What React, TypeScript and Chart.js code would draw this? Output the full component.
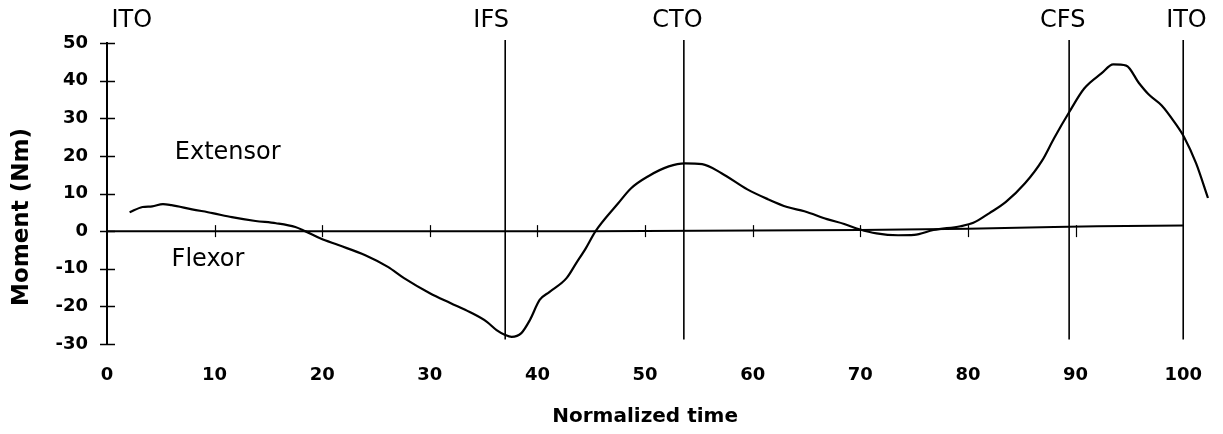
import React, { useEffect, useRef } from "react";
import { Chart, registerables } from "chart.js";

Chart.register(...registerables);

// Normalized time (% of gait cycle) and moment (Nm)
const timeX = [
  2.1, 3.3, 4.2, 5.2, 6.0, 7.9, 9.8, 11.6, 13.8, 15.7, 17.5, 18.4, 19.8, 21.5,
  24.0, 26.1, 27.6, 30.0, 31.9, 33.7, 35.3, 36.2, 37.0, 37.6, 38.5, 39.3, 40.2,
  41.1, 42.7, 43.6, 44.5, 45.4, 47.5, 48.7, 50.3, 52.2, 53.7, 55.3, 57.1, 59.5,
  61.4, 63.2, 64.8, 66.9, 68.5, 69.9, 71.5, 73.5, 75.0, 76.8, 79.3, 80.5, 82.0,
  83.5, 85.3, 86.9, 88.0, 89.4, 90.8, 92.4, 93.5, 94.7, 95.9, 96.8, 98.0, 99.2,
  100.1, 101.2, 102.3,
];
const momentY = [
  5.0, 6.4, 6.6, 7.2, 6.9, 5.8, 4.8, 3.7, 2.7, 2.1, 1.1, 0, -1.9, -3.7, -6.4,
  -9.5, -12.5, -16.5, -19.1, -21.5, -24.1, -26.3, -27.6, -28.1, -27.1, -23.6,
  -18.3, -16.2, -12.5, -8.5, -4.5, 0, 7.4, 11.4, 14.6, 17.2, 18.0, 17.8, 15.4,
  11.1, 8.5, 6.4, 5.3, 3.2, 1.9, 0.5, -0.6, -1.1, -1.0, 0.3, 1.3, 2.2, 4.8, 7.7,
  12.7, 18.8, 24.7, 31.6, 37.9, 41.9, 44.3, 44.0, 39.3, 36.3, 33.4, 28.9, 24.9,
  18.0, 8.8,
];

// Zero (baseline) trace
const baselineX = [0, 45, 70, 80, 88, 92, 100];
const baselineY = [0, 0, 0.3, 0.6, 1.1, 1.3, 1.5];

// Gait events
const eventNames = ["ITO", "IFS", "CTO", "CFS", "ITO"];
const eventLabelX = [2.3, 35.7, 53.0, 88.8, 100.3];
const eventLineX = [37.0, 53.6, 89.4, 100.0];
const eventLabelY = 56;
const eventLineTop = 50.8;
const eventLineBottom = -28.8;

// Region labels
const regionNames = ["Extensor", "Flexor"];
const regionX = [6.3, 6.0];
const regionY = [20.7, -7.7];

// Axis ticks
const yTickValues = [-30, -20, -10, 0, 10, 20, 30, 40, 50];
const xTickLabels = [0, 10, 20, 30, 40, 50, 60, 70, 80, 90, 100];
const xTickMarks = [10, 20, 30, 40, 50, 60, 70, 80, 90];
const xTitle = "Normalized time";
const xTitleAt = 50;
const yTitle = "Moment (Nm)";

const FONT = '"DejaVu Sans", sans-serif';

const overlayPlugin = {
  id: "overlay",
  afterDraw(chart: any) {
    const { ctx, chartArea, scales } = chart;
    const x = scales.x;
    const y = scales.y;
    ctx.save();
    ctx.strokeStyle = "#000";
    ctx.fillStyle = "#000";

    // crossing tick marks on the y axis
    ctx.lineWidth = 1.5;
    for (const v of yTickValues) {
      const py = Math.round(y.getPixelForValue(v)) + 0.5;
      ctx.beginPath();
      ctx.moveTo(chartArea.left - 7, py);
      ctx.lineTo(chartArea.left + 8, py);
      ctx.stroke();
    }
    // crossing tick marks on the zero line
    ctx.lineWidth = 1.2;
    const y0 = y.getPixelForValue(0);
    for (const v of xTickMarks) {
      const px = Math.round(x.getPixelForValue(v)) + 0.5;
      ctx.beginPath();
      ctx.moveTo(px, y0 - 6);
      ctx.lineTo(px, y0 + 6);
      ctx.stroke();
    }

    // event labels
    ctx.font = `24px ${FONT}`;
    ctx.textAlign = "center";
    ctx.textBaseline = "middle";
    eventNames.forEach((n, i) => {
      ctx.fillText(n, x.getPixelForValue(eventLabelX[i]), y.getPixelForValue(eventLabelY));
    });

    // region labels
    ctx.textAlign = "left";
    regionNames.forEach((n, i) => {
      ctx.fillText(n, x.getPixelForValue(regionX[i]), y.getPixelForValue(regionY[i]));
    });

    // x axis title
    ctx.font = `bold 20px ${FONT}`;
    ctx.textAlign = "center";
    ctx.fillText(xTitle, x.getPixelForValue(xTitleAt), chart.height - 17);

    // y axis title
    ctx.font = `bold 23px ${FONT}`;
    ctx.translate(22, chart.height / 2);
    ctx.rotate(-Math.PI / 2);
    ctx.fillText(yTitle, 0, 0);
    ctx.restore();
  },
};

export default function App() {
  const canvasRef = useRef<HTMLCanvasElement | null>(null);

  useEffect(() => {
    const canvas = canvasRef.current;
    if (!canvas) return;
    Chart.defaults.color = "#000";

    const curve = timeX.map((t, i) => ({ x: t, y: momentY[i] }));
    const baseline = baselineX.map((t, i) => ({ x: t, y: baselineY[i] }));
    const eventSets = eventLineX.map((ex) => ({
      data: [
        { x: ex, y: eventLineTop },
        { x: ex, y: eventLineBottom },
      ],
      borderColor: "#000",
      borderWidth: 1.6,
      pointRadius: 0,
      clip: false as any,
    }));

    const chart = new Chart(canvas, {
      type: "line",
      data: {
        datasets: [
          {
            data: baseline,
            borderColor: "#000",
            borderWidth: 2,
            pointRadius: 0,
          },
          ...eventSets,
          {
            data: curve,
            borderColor: "#000",
            borderWidth: 2.2,
            pointRadius: 0,
            cubicInterpolationMode: "monotone",
          },
        ],
      },
      plugins: [overlayPlugin],
      options: {
        responsive: false,
        animation: false,
        events: [],
        layout: { padding: { top: 43, right: 0, left: 0, bottom: 0 } },
        plugins: {
          legend: { display: false },
          tooltip: { enabled: false },
          title: { display: false },
        },
        scales: {
          x: {
            type: "linear",
            min: 0,
            max: 103,
            position: "bottom",
            grid: { display: false, drawTicks: false },
            border: { display: false },
            afterBuildTicks: (scale: any) => {
              scale.ticks = xTickLabels.map((v) => ({ value: v }));
            },
            ticks: {
              padding: 21,
              maxRotation: 0,
              autoSkip: false,
              color: "#000",
              font: { family: FONT, size: 18, weight: "bold" },
            },
            afterFit: (scale: any) => {
              scale.height = 90;
            },
          },
          y: {
            type: "linear",
            min: -30,
            max: 50,
            grid: { display: false, drawTicks: false },
            border: { display: true, color: "#000", width: 2 },
            ticks: {
              stepSize: 10,
              padding: 19,
              color: "#000",
              font: { family: FONT, size: 18, weight: "bold" },
            },
            afterFit: (scale: any) => {
              scale.width = 107;
            },
          },
        },
      },
    });
    return () => chart.destroy();
  }, []);

  return (
    <div style={{ position: "fixed", left: 0, top: 0, width: 1223, height: 434, background: "#fff" }}>
      <canvas ref={canvasRef} width={1223} height={434} style={{ display: "block" }} />
    </div>
  );
}
